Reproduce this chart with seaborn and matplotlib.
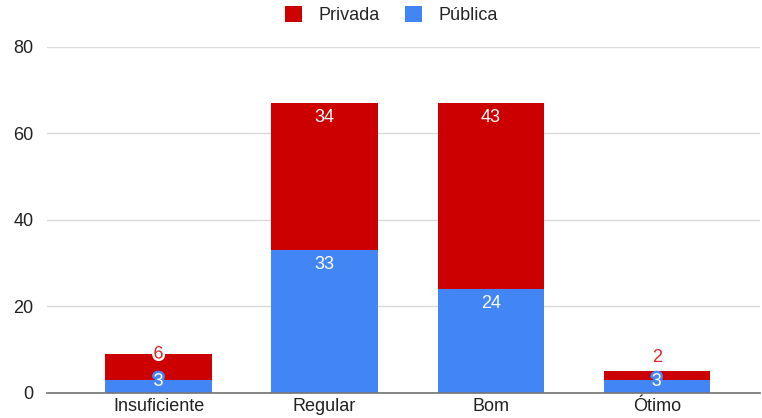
import matplotlib.pyplot as plt
import matplotlib.patheffects as pe
import numpy as np
import pandas as pd
import seaborn as sns

sns.set_theme(style="white")
plt.rcParams["font.family"] = ["Liberation Sans", "DejaVu Sans"]
plt.rcParams["font.size"] = 13

categorias = ["Insuficiente", "Regular", "Bom", "Ótimo"]
publica = [3, 33, 24, 3]
privada = [6, 34, 43, 2]

AZUL = "#4285F4"
VERMELHO = "#CC0000"

df = pd.DataFrame({"categoria": categorias, "Pública": publica, "Privada": privada})
df["total"] = df["Pública"] + df["Privada"]

fig = plt.figure(figsize=(7.62, 4.18), dpi=100)
ax = fig.add_axes([0.062, 0.06, 0.935, 0.828])

# stacked: total first (red), then the blue part on top of it
sns.barplot(data=df, x="categoria", y="total", color=VERMELHO, width=0.64,
            saturation=1, ax=ax, label="Privada", linewidth=0)
sns.barplot(data=df, x="categoria", y="Pública", color=AZUL, width=0.64,
            saturation=1, ax=ax, label="Pública", linewidth=0)

ax.set_ylim(0, 80)
ax.set_xlim(-0.67, 3.62)
ax.set_yticks([0, 20, 40, 60, 80])
ax.set_xlabel("")
ax.set_ylabel("")
ax.yaxis.grid(True, color="#d9d9d9", linewidth=1)
ax.set_axisbelow(True)
for s in ["top", "right", "left"]:
    ax.spines[s].set_visible(False)
ax.spines["bottom"].set_color("#777777")
ax.tick_params(axis="both", length=0, labelsize=13, colors="#222222")
ax.tick_params(axis="y", pad=10)
ax.tick_params(axis="x", pad=4)

# labels
outline_w = [pe.withStroke(linewidth=3.5, foreground="white")]
for i, (pu, pr) in enumerate(zip(publica, privada)):
    tot = pu + pr
    # pública
    if pu >= 10:
        ax.text(i, pu - 3.3, str(pu), ha="center", va="center", color="white", fontsize=13)
    else:
        ax.text(i, pu - 0.3, str(pu), ha="center", va="center", color="white", fontsize=13,
                path_effects=[pe.withStroke(linewidth=3.5, foreground=AZUL)])
    # privada
    if pr >= 10:
        ax.text(i, tot - 3.3, str(pr), ha="center", va="center", color="white", fontsize=13)
    elif pr >= 4:
        ax.text(i, tot, str(pr), ha="center", va="center", color="#d52b2b", fontsize=13,
                path_effects=outline_w)
    else:
        ax.text(i, tot + 3.2, str(pr), ha="center", va="center", color="#d52b2b", fontsize=13)

handles, labels = ax.get_legend_handles_labels()
if ax.get_legend() is not None:
    ax.get_legend().remove()
fig.legend(handles, labels, loc="center", bbox_to_anchor=(0.514, 0.963), ncol=2,
           frameon=False, handlelength=0.95, handleheight=0.95, fontsize=13,
           columnspacing=1.4, handletextpad=0.9)

plt.savefig("out.png", dpi=100, facecolor="white")
